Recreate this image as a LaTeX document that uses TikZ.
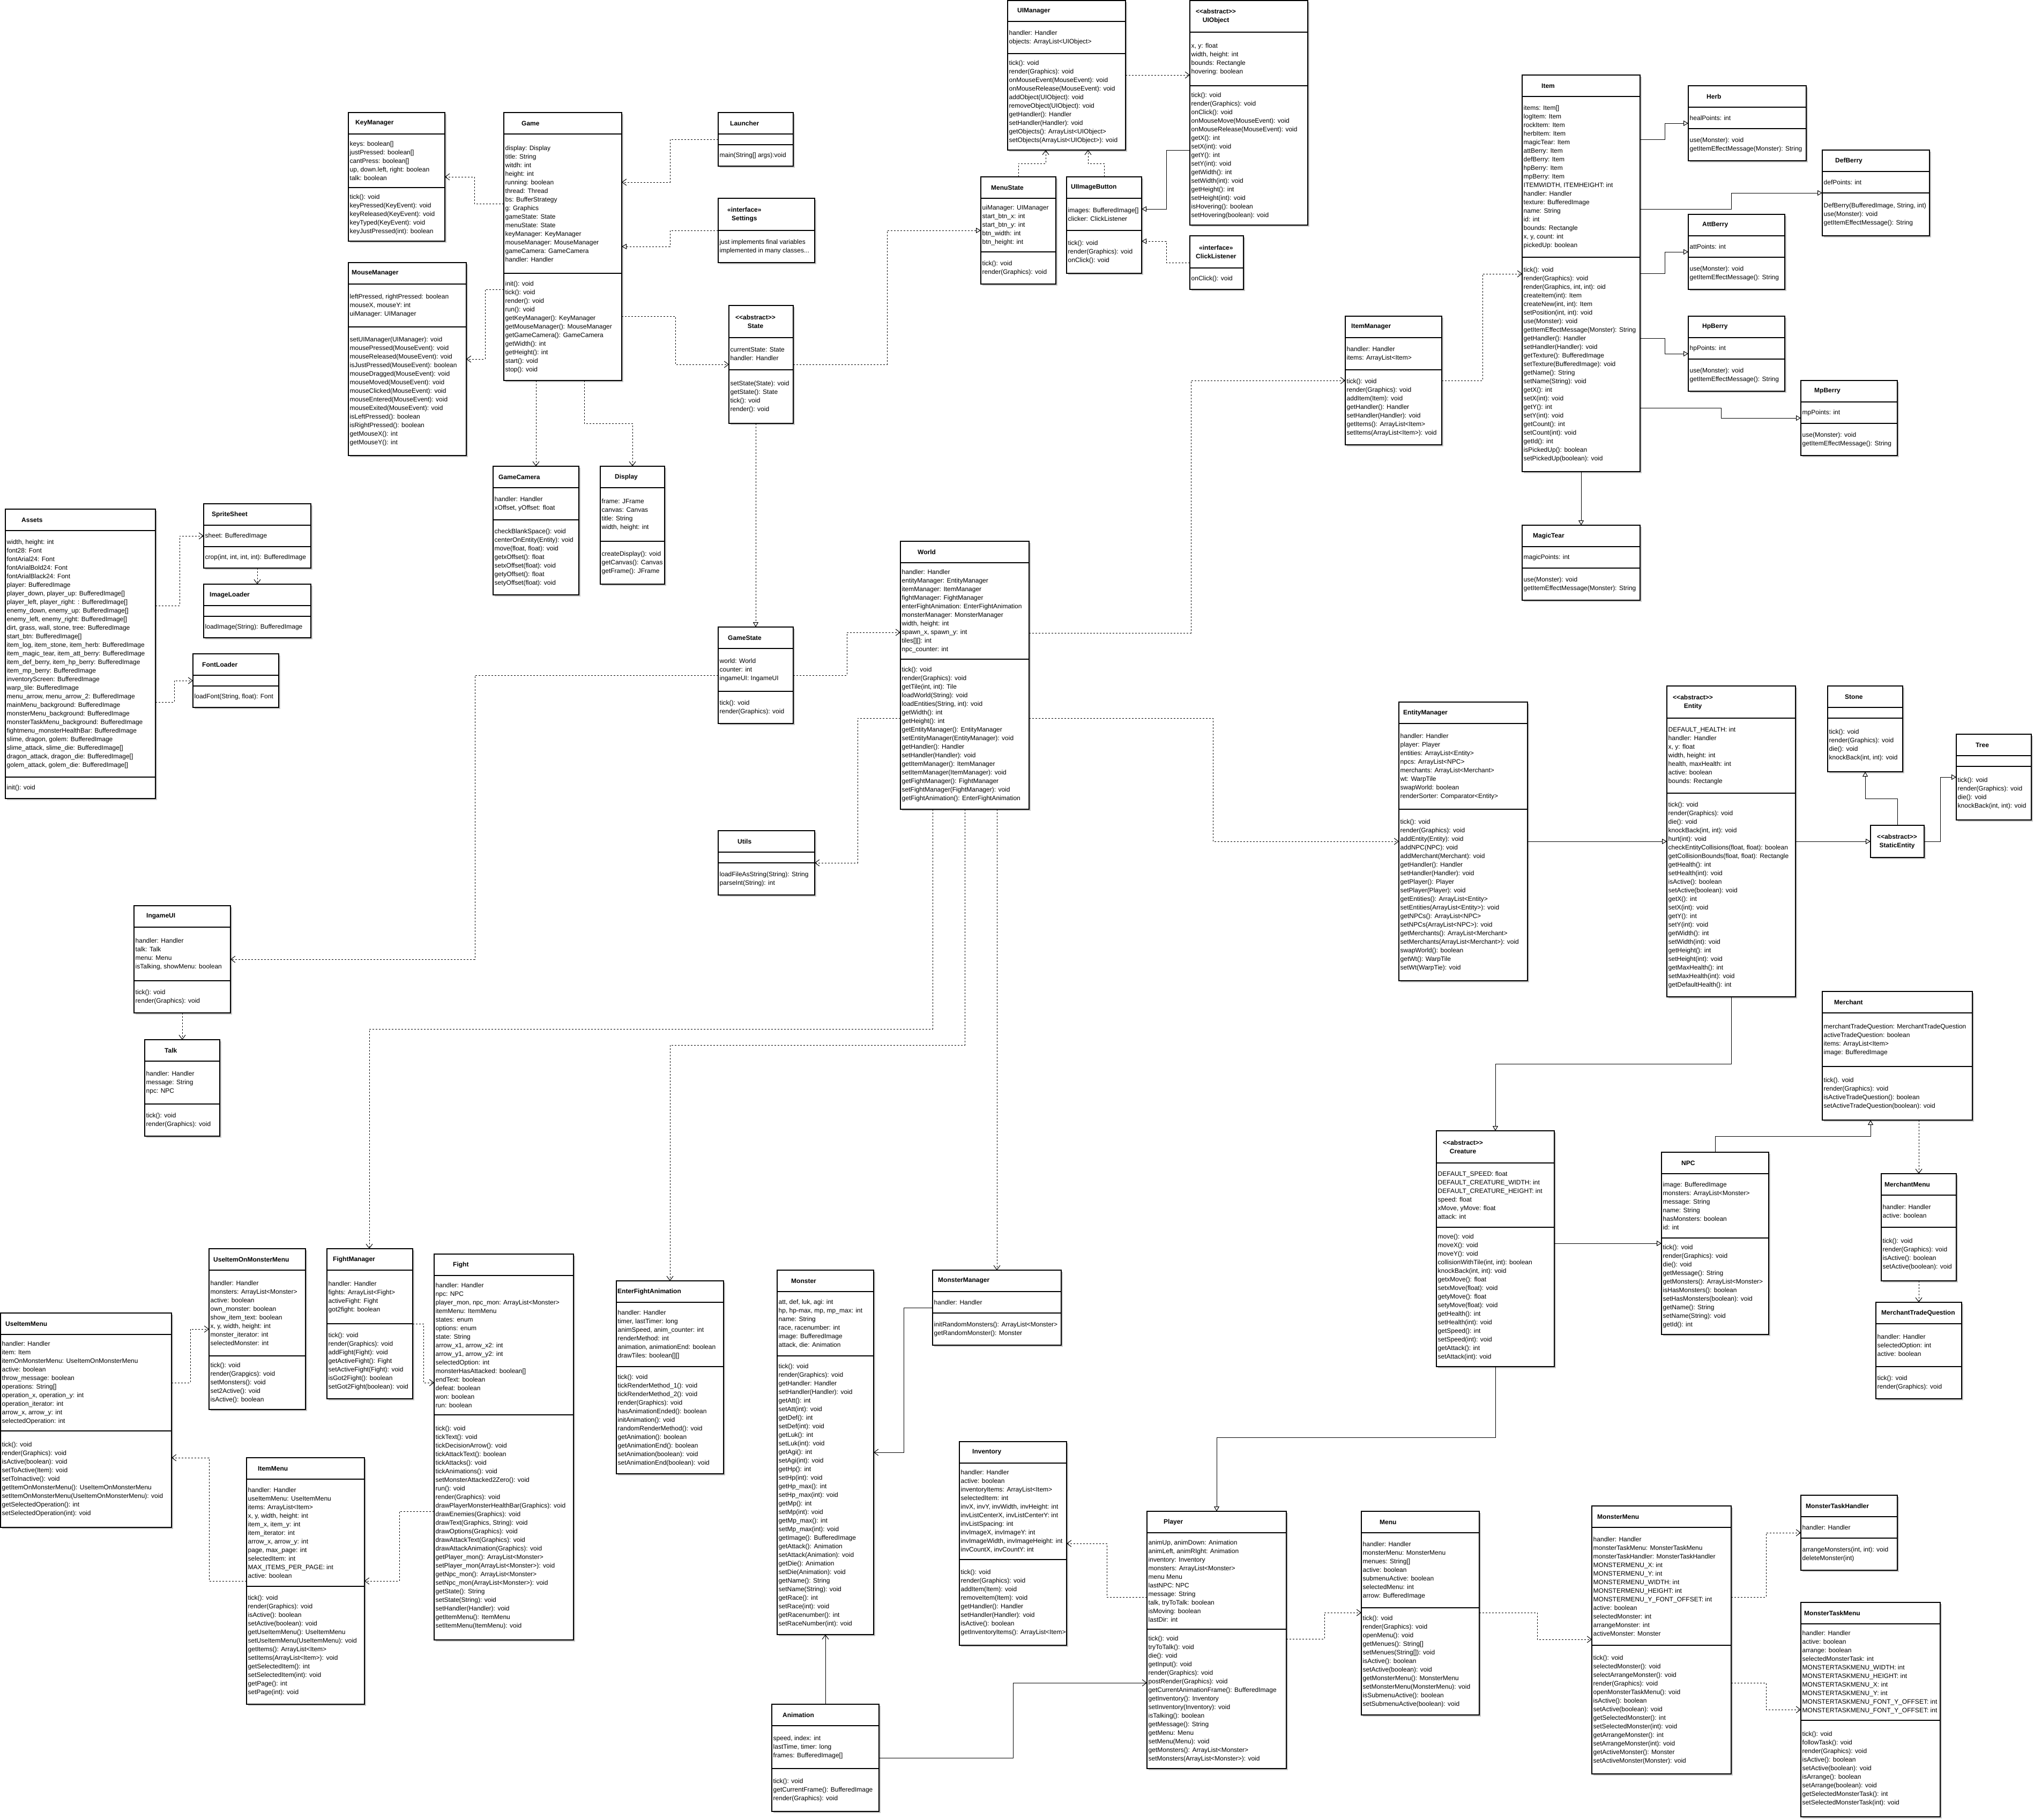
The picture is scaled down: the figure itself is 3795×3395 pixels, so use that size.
\documentclass[tikz,border=0pt]{standalone}
\usepackage{fontspec}
\setmainfont{Liberation Sans}
\usetikzlibrary{arrows.meta,shadows}
\newcommand\ltlt{<\kern0pt<}
\newcommand\gtgt{>\kern0pt>}
% class box: name, left, top, right, bottom, header bottom, title x, title
\newcommand\umlcls[8]{%
  \node[box, minimum width={(#4)-(#2)}, minimum height={(#5)-(#3)}] (#1) at (#2,#3) {};
  \node[ttl] at (#7,{(#3+#6)/2}) {#8};
  \def\clsL{#2}\def\clsR{#4}}
% compartment: top, bottom, lines
\newcommand\umlsec[3]{%
  \draw[sep] (\clsL,#1) -- (\clsR,#1);
  \node[mem] at (\clsL+2.5,{(#1+#2)/2}) {#3};}
\begin{document}
\begin{tikzpicture}[x=1pt,y=-1pt,
  box/.style={draw, line width=1.4pt, fill=white, anchor=north west, inner sep=0pt, outer sep=0pt,
    drop shadow={shadow xshift=3pt, shadow yshift=-3pt, fill=black!30, opacity=.7}},
  sep/.style={line width=1.4pt},
  mem/.style={anchor=west, inner sep=0pt, align=left, font=\fontsize{12}{16}\selectfont},
  ttl/.style={anchor=west, inner sep=0pt, align=center, font=\bfseries\fontsize{12}{16}\selectfont},
  dep/.style={line width=1pt, dash pattern=on 3pt off 3pt, -{Straight Barb[length=8pt,width=12pt,line width=1pt]}},
  real/.style={line width=1pt, dash pattern=on 3pt off 3pt, -{Triangle[length=9pt,width=10pt,fill=white,line width=1pt]}},
  gen/.style={line width=1pt, -{Triangle[length=9pt,width=10pt,fill=white,line width=1pt]}},
  assoc/.style={line width=1pt, -{Straight Barb[length=8pt,width=12pt,line width=1pt]}}]
\path[use as bounding box, fill=white] (0,0) rectangle (3795,3395);

% ---------------- core ----------------
\umlcls{keymgr}{650}{210}{830}{450}{250}{663}{KeyManager}
\umlsec{250}{350}{keys: boolean[]\\justPressed: boolean[]\\cantPress: boolean[]\\up, down.left, right: boolean\\talk: boolean}
\umlsec{350}{450}{tick(): void\\keyPressed(KeyEvent): void\\keyReleased(KeyEvent): void\\keyTyped(KeyEvent): void\\keyJustPressed(int): boolean}

\umlcls{mousemgr}{650}{490}{870}{850}{530}{656}{MouseManager}
\umlsec{530}{610}{leftPressed, rightPressed: boolean\\mouseX, mouseY: int\\uiManager: UIManager}
\umlsec{610}{850}{setUIManager(UIManager): void\\mousePressed(MouseEvent): void\\mouseReleased(MouseEvent): void\\isJustPressed(MouseEvent): boolean\\mouseDragged(MouseEvent): void\\mouseMoved(MouseEvent): void\\mouseClicked(MouseEvent): void\\mouseEntered(MouseEvent): void\\mouseExited(MouseEvent): void\\isLeftPressed(): boolean\\isRightPressed(): boolean\\getMouseX(): int\\getMouseY(): int}

\umlcls{game}{940}{210}{1160}{710}{250}{973}{Game}
\umlsec{250}{510}{display: Display\\title: String\\witdh: int\\height: int\\running: boolean\\thread: Thread\\bs: BufferStrategy\\g: Graphics\\gameState: State\\menuState: State\\keyManager: KeyManager\\mouseManager: MouseManager\\gameCamera: GameCamera\\handler: Handler}
\umlsec{510}{710}{init(): void\\tick(): void\\render(): void\\run(): void\\getKeyManager(): KeyManager\\getMouseManager(): MouseManager\\getGameCamera(): GameCamera\\getWidth(): int\\getHeight(): int\\start(): void\\stop(): void}

\umlcls{launcher}{1340}{210}{1480}{310}{250}{1362}{Launcher}
\umlsec{250}{270}{}
\umlsec{270}{310}{main(String[] args):void}

\umlcls{settings}{1340}{370}{1520}{490}{430}{1357}{«interface»\\Settings}
\umlsec{430}{490}{just implements final variables\\implemented in many classes...}

\umlcls{state}{1360}{570}{1480}{790}{630}{1372}{\ltlt abstract\gtgt\\State}
\umlsec{630}{690}{currentState: State\\handler: Handler}
\umlsec{690}{790}{setState(State): void\\getState(): State\\tick(): void\\render(): void}

% ---------------- user interface ----------------
\umlcls{uimgr}{1880}{1}{2100}{280}{40}{1898}{UIManager}
\umlsec{40}{100}{handler: Handler\\objects: ArrayList<UIObject>}
\umlsec{100}{280}{tick(): void\\render(Graphics): void\\onMouseEvent(MouseEvent): void\\onMouseRelease(MouseEvent): void\\addObject(UIObject): void\\removeObject(UIObject): void\\getHandler(): Handler\\setHandler(Handler): void\\getObjects(): ArrayList<UIObject>\\setObjects(ArrayList<UIObject>): void}

\umlcls{uiobject}{2220}{1}{2440}{420}{60}{2231}{\ltlt abstract\gtgt\\UIObject}
\umlsec{60}{160}{x, y: float\\width, height: int\\bounds: Rectangle\\hovering: boolean}
\umlsec{160}{420}{tick(): void\\render(Graphics): void\\onClick(): void\\onMouseMove(MouseEvent): void\\onMouseRelease(MouseEvent): void\\getX(): int\\setX(int): void\\getY(): int\\setY(int): void\\getWidth(): int\\setWidth(int): void\\getHeight(): int\\setHeight(int): void\\isHovering(): boolean\\setHovering(boolean): void}

\umlcls{menustate}{1830}{330}{1970}{530}{370}{1849}{MenuState}
\umlsec{370}{470}{uiManager: UIManager\\start\_btn\_x: int\\start\_btn\_y: int\\btn\_width: int\\btn\_height: int}
\umlsec{470}{530}{tick(): void\\render(Graphics): void}

\umlcls{uibutton}{1990}{330}{2130}{510}{370}{1998}{UIImageButton}
\umlsec{370}{430}{images: BufferedImage[]\\clicker: ClickListener}
\umlsec{430}{510}{tick(): void\\render(Graphics): void\\onClick(): void}

\umlcls{clicklistener}{2220}{440}{2320}{540}{500}{2231}{«interface»\\ClickListener}
\umlsec{500}{540}{onClick(): void}

% ---------------- items ----------------
\umlcls{item}{2840}{140}{3060}{880}{180}{2876}{Item}
\umlsec{180}{480}{items: Item[]\\logItem: Item\\rockItem: Item\\herbItem: Item\\magicTear: Item\\attBerry: Item\\defBerry: Item\\hpBerry: Item\\mpBerry: Item\\ITEMWIDTH, ITEMHEIGHT: int\\handler: Handler\\texture: BufferedImage\\name: String\\id: int\\bounds: Rectangle\\x, y, count: int\\pickedUp: boolean}
\umlsec{480}{880}{tick(): void\\render(Graphics): void\\render(Graphics, int, int): oid\\createItem(int): Item\\createNew(int, int): Item\\setPosition(int, int): void\\use(Monster): void\\getItemEffectMessage(Monster): String\\getHandler(): Handler\\setHandler(Handler): void\\getTexture(): BufferedImage\\setTexture(BufferedImage): void\\getName(): String\\setName(String): void\\getX(): int\\setX(int): void\\getY(): int\\setY(int): void\\getCount(): int\\setCount(int): void\\getId(): int\\isPickedUp(): boolean\\setPickedUp(boolean): void}

\umlcls{herb}{3150}{160}{3370}{300}{200}{3184}{Herb}
\umlsec{200}{240}{healPoints: int}
\umlsec{240}{300}{use(Monster): void\\getItemEffectMessage(Monster): String}

\umlcls{defberry}{3400}{280}{3600}{440}{320}{3424}{DefBerry}
\umlsec{320}{360}{defPoints: int}
\umlsec{360}{440}{DefBerry(BufferedImage, String, int)\\use(Monster): void\\getItemEffectMessage(): String}

\umlcls{attberry}{3150}{400}{3330}{540}{440}{3176}{AttBerry}
\umlsec{440}{480}{attPoints: int}
\umlsec{480}{540}{use(Monster): void\\getItemEffectMessage(): String}

\umlcls{hpberry}{3150}{590}{3330}{730}{630}{3176}{HpBerry}
\umlsec{630}{670}{hpPoints: int}
\umlsec{670}{730}{use(Monster): void\\getItemEffectMessage(): String}

\umlcls{mpberry}{3360}{710}{3540}{850}{750}{3385}{MpBerry}
\umlsec{750}{790}{mpPoints: int}
\umlsec{790}{850}{use(Monster): void\\getItemEffectMessage(): String}

\umlcls{magictear}{2840}{980}{3060}{1120}{1020}{2860}{MagicTear}
\umlsec{1020}{1060}{magicPoints: int}
\umlsec{1060}{1120}{use(Monster): void\\getItemEffectMessage(Monster): String}

\umlcls{itemmgr}{2510}{590}{2690}{830}{630}{2521}{ItemManager}
\umlsec{630}{690}{handler: Handler\\items: ArrayList<Item>}
\umlsec{690}{830}{tick(): void\\render(Graphics): void\\addItem(Item): void\\getHandler(): Handler\\setHandler(Handler): void\\getItems(): ArrayList<Item>\\setItems(ArrayList<Item>): void}

% ---------------- resources ----------------
\umlcls{assets}{10}{950}{290}{1490}{990}{40}{Assets}
\umlsec{990}{1450}{width, height: int\\font28: Font\\fontArial24: Font\\fontArialBold24: Font\\fontArialBlack24: Font\\player: BufferedImage\\player\_down, player\_up: BufferedImage[]\\player\_left, player\_right: : BufferedImage[]\\enemy\_down, enemy\_up: BufferedImage[]\\enemy\_left, enemy\_right: BufferedImage[]\\dirt, grass, wall, stone, tree: BufferedImage\\start\_btn: BufferedImage[]\\item\_log, item\_stone, item\_herb: BufferedImage\\item\_magic\_tear, item\_att\_berry: BufferedImage\\item\_def\_berry, item\_hp\_berry: BufferedImage\\item\_mp\_berry: BufferedImage\\inventoryScreen: BufferedImage\\warp\_tile: BufferedImage\\menu\_arrow, menu\_arrow\_2: BufferedImage\\mainMenu\_background: BufferedImage\\monsterMenu\_background: BufferedImage\\monsterTaskMenu\_background: BufferedImage\\fightmenu\_monsterHealthBar: BufferedImage\\slime, dragon, golem: BufferedImage\\slime\_attack, slime\_die: BufferedImage[]\\dragon\_attack, dragon\_die: BufferedImage[]\\golem\_attack, golem\_die: BufferedImage[]}
\umlsec{1450}{1490}{init(): void}

\umlcls{spritesheet}{380}{940}{580}{1060}{980}{395}{SpriteSheet}
\umlsec{980}{1020}{sheet: BufferedImage}
\umlsec{1020}{1060}{crop(int, int, int, int): BufferedImage}

\umlcls{imageloader}{380}{1090}{580}{1190}{1130}{391}{ImageLoader}
\umlsec{1130}{1150}{}
\umlsec{1150}{1190}{loadImage(String): BufferedImage}

\umlcls{fontloader}{360}{1220}{520}{1320}{1260}{377}{FontLoader}
\umlsec{1260}{1280}{}
\umlsec{1280}{1320}{loadFont(String, float): Font}

\umlcls{gamecamera}{920}{870}{1080}{1110}{910}{930}{GameCamera}
\umlsec{910}{970}{handler: Handler\\xOffset, yOffset: float}
\umlsec{970}{1110}{checkBlankSpace(): void\\centerOnEntity(Entity): void\\move(float, float): void\\getxOffset(): float\\setxOffset(float): void\\getyOffset(): float\\setyOffset(float): void}

\umlcls{display}{1120}{870}{1240}{1090}{910}{1147}{Display}
\umlsec{910}{1010}{frame: JFrame\\canvas: Canvas\\title: String\\width, height: int}
\umlsec{1010}{1090}{createDisplay(): void\\getCanvas(): Canvas\\getFrame(): JFrame}

% ---------------- world ----------------
\umlcls{gamestate}{1340}{1170}{1480}{1350}{1210}{1358}{GameState}
\umlsec{1210}{1290}{world: World\\counter: int\\ingameUI: IngameUI}
\umlsec{1290}{1350}{tick(): void\\render(Graphics): void}

\umlcls{world}{1680}{1010}{1920}{1510}{1050}{1712}{World}
\umlsec{1050}{1230}{handler: Handler\\entityManager: EntityManager\\itemManager: ItemManager\\fightManager: FightManager\\enterFightAnimation: EnterFightAnimation\\monsterManager: MonsterManager\\width, height: int\\spawn\_x, spawn\_y: int\\tiles[][]: int\\npc\_counter: int}
\umlsec{1230}{1510}{tick(): void\\render(Graphics): void\\getTile(int, int): Tile\\loadWorld(String): void\\loadEntities(String, int): void\\getWidth(): int\\getHeight(): int\\getEntityManager(): EntityManager\\setEntityManager(EntityManager): void\\getHandler(): Handler\\setHandler(Handler): void\\getItemManager(): ItemManager\\setItemManager(ItemManager): void\\getFightManager(): FightManager\\setFightManager(FightManager): void\\getFightAnimation(): EnterFightAnimation}

\umlcls{utils}{1340}{1550}{1520}{1670}{1590}{1376}{Utils}
\umlsec{1590}{1610}{}
\umlsec{1610}{1670}{loadFileAsString(String): String\\parseInt(String): int}

\umlcls{ingameui}{250}{1690}{430}{1890}{1730}{273}{IngameUI}
\umlsec{1730}{1830}{handler: Handler\\talk: Talk\\menu: Menu\\isTalking, showMenu: boolean}
\umlsec{1830}{1890}{tick(): void\\render(Graphics): void}

\umlcls{talk}{270}{1940}{410}{2120}{1980}{307}{Talk}
\umlsec{1980}{2060}{handler: Handler\\message: String\\npc: NPC}
\umlsec{2060}{2120}{tick(): void\\render(Graphics): void}

% ---------------- entities ----------------
\umlcls{entitymgr}{2610}{1310}{2850}{1830}{1350}{2618}{EntityManager}
\umlsec{1350}{1510}{handler: Handler\\player: Player\\entities: ArrayList<Entity>\\npcs: ArrayList<NPC>\\merchants: ArrayList<Merchant>\\wt: WarpTile\\swapWorld: boolean\\renderSorter: Comparator<Entity>}
\umlsec{1510}{1830}{tick(): void\\render(Graphics): void\\addEntity(Entity): void\\addNPC(NPC): void\\addMerchant(Merchant): void\\getHandler(): Handler\\setHandler(Handler): void\\getPlayer(): Player\\setPlayer(Player): void\\getEntities(): ArrayList<Entity>\\setEntities(ArrayList<Entity>): void\\getNPCs(): ArrayList<NPC>\\setNPCs(ArrayList<NPC>): void\\getMerchants(): ArrayList<Merchant>\\setMerchants(ArrayList<Merchant>): void\\swapWorld(): boolean\\getWt(): WarpTile\\setWt(WarpTie): void}

\umlcls{entity}{3110}{1280}{3350}{1860}{1340}{3121}{\ltlt abstract\gtgt\\Entity}
\umlsec{1340}{1480}{DEFAULT\_HEALTH: int\\handler: Handler\\x, y: float\\width, height: int\\health, maxHealth: int\\active: boolean\\bounds: Rectangle}
\umlsec{1480}{1860}{tick(): void\\render(Graphics): void\\die(): void\\knockBack(int, int): void\\hurt(int): void\\checkEntityCollisions(float, float): boolean\\getCollisionBounds(float, float): Rectangle\\getHealth(): int\\setHealth(int): void\\isActive(): boolean\\setActive(boolean): void\\getX(): int\\setX(int): void\\getY(): int\\setY(int): void\\getWidth(): int\\setWidth(int): void\\getHeight(): int\\setHeight(int): void\\getMaxHealth(): int\\setMaxHealth(int): void\\getDefaultHealth(): int}

\umlcls{stone}{3410}{1280}{3550}{1440}{1320}{3442}{Stone}
\umlsec{1320}{1340}{}
\umlsec{1340}{1440}{tick(): void\\render(Graphics): void\\die(): void\\knockBack(int, int): void}

\umlcls{tree}{3650}{1370}{3790}{1530}{1410}{3686}{Tree}
\umlsec{1410}{1430}{}
\umlsec{1430}{1530}{tick(): void\\render(Graphics): void\\die(): void\\knockBack(int, int): void}

\umlcls{staticentity}{3490}{1540}{3590}{1600}{1600}{3502}{\ltlt abstract\gtgt\\StaticEntity}

\umlcls{merchant}{3400}{1850}{3680}{2090}{1890}{3422}{Merchant}
\umlsec{1890}{1990}{merchantTradeQuestion: MerchantTradeQuestion\\activeTradeQuestion: boolean\\items: ArrayList<Item>\\image: BufferedImage}
\umlsec{1990}{2090}{tick(). void\\render(Graphics): void\\isActiveTradeQuestion(): boolean\\setActiveTradeQuestion(boolean): void}

\umlcls{creature}{2680}{2110}{2900}{2550}{2170}{2692}{\ltlt abstract\gtgt\\Creature}
\umlsec{2170}{2290}{DEFAULT\_SPEED: float\\DEFAULT\_CREATURE\_WIDTH: int\\DEFAULT\_CREATURE\_HEIGHT: int\\speed: float\\xMove, yMove: float\\attack: int}
\umlsec{2290}{2550}{move(): void\\moveX(): void\\moveY(): void\\collisionWithTile(int, int): boolean\\knockBack(int, int): void\\getxMove(): float\\setxMove(float): void\\getyMove(): float\\setyMove(float): void\\getHealth(): int\\setHealth(int): void\\getSpeed(): int\\setSpeed(int): void\\getAttack(): int\\setAttack(int): void}

\umlcls{npc}{3100}{2150}{3300}{2490}{2190}{3137}{NPC}
\umlsec{2190}{2310}{image: BufferedImage\\monsters: ArrayList<Monster>\\message: String\\name: String\\hasMonsters: boolean\\id: int}
\umlsec{2310}{2490}{tick(): void\\render(Graphics): void\\die(): void\\getMessage(): String\\getMonsters(): ArrayList<Monster>\\isHasMonsters(): boolean\\setHasMonsters(boolean): void\\getName(): String\\setName(String): void\\getId(): int}

\umlcls{merchantmenu}{3510}{2190}{3650}{2390}{2230}{3516}{MerchantMenu}
\umlsec{2230}{2290}{handler: Handler\\active: boolean}
\umlsec{2290}{2390}{tick(): void\\render(Graphics): void\\isActive(): boolean\\setActive(boolean): void}

\umlcls{mtq}{3500}{2430}{3660}{2610}{2470}{3510}{MerchantTradeQuestion}
\umlsec{2470}{2550}{handler: Handler\\selectedOption: int\\active: boolean}
\umlsec{2550}{2610}{tick(): void\\render(Graphics): void}

% ---------------- fights and menus ----------------
\umlcls{useitemmenu}{1}{2450}{320}{2850}{2490}{10}{UseItemMenu}
\umlsec{2490}{2670}{handler: Handler\\item: Item\\itemOnMonsterMenu: UseItemOnMonsterMenu\\active: boolean\\throw\_message: boolean\\operations: String[]\\operation\_x, operation\_y: int\\operation\_iterator: int\\arrow\_x, arrow\_y: int\\selectedOperation: int}
\umlsec{2670}{2850}{tick(): void\\render(Graphics): void\\isActive(boolean): void\\setToActive(Item): void\\setToInactive(): void\\getItemOnMonsterMenu(): UseItemOnMonsterMenu\\setItemOnMonsterMenu(UseItemOnMonsterMenu): void\\getSelectedOperation(): int\\setSelectedOperation(int): void}

\umlcls{uiomm}{390}{2330}{570}{2630}{2370}{398}{UseItemOnMonsterMenu}
\umlsec{2370}{2530}{handler: Handler\\monsters: ArrayList<Monster>\\active: boolean\\own\_monster: boolean\\show\_item\_text: boolean\\x, y, width, height: int\\monster\_iterator: int\\selectedMonster: int}
\umlsec{2530}{2630}{tick(): void\\render(Grapgics): void\\setMonsters(): void\\set2Active(): void\\isActive(): boolean}

\umlcls{fightmgr}{610}{2330}{770}{2610}{2370}{621}{FightManager}
\umlsec{2370}{2470}{handler: Handler\\fights: ArrayList<Fight>\\activeFight: Fight\\got2fight: boolean}
\umlsec{2470}{2610}{tick(): void\\render(Graphics): void\\addFight(Fight): void\\getActiveFight(): Fight\\setActiveFight(Fight): void\\isGot2Fight(): boolean\\setGot2Fight(boolean): void}

\umlcls{fight}{810}{2340}{1070}{3060}{2380}{845}{Fight}
\umlsec{2380}{2640}{handler: Handler\\npc: NPC\\player\_mon, npc\_mon: ArrayList<Monster>\\itemMenu: ItemMenu\\states: enum\\options: enum\\state: String\\arrow\_x1, arrow\_x2: int\\arrow\_y1, arrow\_y2: int\\selectedOption: int\\monsterHasAttacked: boolean[]\\endText: boolean\\defeat: boolean\\won: boolean\\run: boolean}
\umlsec{2640}{3060}{tick(): void\\tickText(): void\\tickDecisionArrow(): void\\tickAttackText(): boolean\\tickAttacks(): void\\tickAnimations(): void\\setMonsterAttacked2Zero(): void\\run(): void\\render(Graphics): void\\drawPlayerMonsterHealthBar(Graphics): void\\drawEnemies(Graphics): void\\drawText(Graphics, String): void\\drawOptions(Graphics): void\\drawAttackText(Graphics): void\\drawAttackAnimation(Graphics): void\\getPlayer\_mon(): ArrayList<Monster>\\setPlayer\_mon(ArrayList<Monster>): void\\getNpc\_mon(): ArrayList<Monster>\\setNpc\_mon(ArrayList<Monster>): void\\getState(): String\\setState(String): void\\setHandler(Handler): void\\getItemMenu(): ItemMenu\\setItemMenu(ItemMenu): void}

\umlcls{itemmenu}{460}{2720}{680}{3180}{2760}{481}{ItemMenu}
\umlsec{2760}{2960}{handler: Handler\\useItemMenu: UseItemMenu\\items: ArrayList<Item>\\x, y, width, height: int\\item\_x, item\_y: int\\item\_iterator: int\\arrow\_x, arrow\_y: int\\page, max\_page: int\\selectedItem: int\\MAX\_ITEMS\_PER\_PAGE: int\\active: boolean}
\umlsec{2960}{3180}{tick(): void\\render(Graphics): void\\isActive(): boolean\\setActive(boolean): void\\getUseItemMenu(): UseItemMenu\\setUseItemMenu(UseItemMenu): void\\getItems(): ArrayList<Item>\\setItems(ArrayList<Item>): void\\getSelectedItem(): int\\setSelectedItem(int): void\\getPage(): int\\setPage(int): void}

\umlcls{efa}{1150}{2390}{1350}{2750}{2430}{1152}{EnterFightAnimation}
\umlsec{2430}{2550}{handler: Handler\\timer, lastTimer: long\\animSpeed, anim\_counter: int\\renderMethod: int\\animation, animationEnd: boolean\\drawTiles: boolean[][]}
\umlsec{2550}{2750}{tick(): void\\tickRenderMethod\_1(): void\\tickRenderMethod\_2(): void\\render(Graphics): void\\hasAnimationEnded(): boolean\\initAnimation(): void\\randomRenderMethod(): void\\getAnimation(): boolean\\getAnimationEnd(): boolean\\setAnimation(boolean): void\\setAnimationEnd(boolean): void}

\umlcls{monster}{1450}{2370}{1630}{3050}{2410}{1476}{Monster}
\umlsec{2410}{2530}{att, def, luk, agi: int\\hp, hp-max, mp, mp\_max: int\\name: String\\race, racenumber: int\\image: BufferedImage\\attack, die: Animation}
\umlsec{2530}{3050}{tick(): void\\render(Graphics): void\\getHandler: Handler\\setHandler(Handler): void\\getAtt(): int\\setAtt(int): void\\getDef(): int\\setDef(int): void\\getLuk(): int\\setLuk(int): void\\getAgi(): int\\setAgi(int): void\\getHp(): int\\setHp(int): void\\getHp\_max(): int\\setHp\_max(int): void\\getMp(): int\\setMp(int): void\\getMp\_max(): int\\setMp\_max(int): void\\getImage(): BufferedImage\\getAttack(): Animation\\setAttack(Animation): void\\getDie(): Animation\\setDie(Animation): void\\getName(): String\\setName(String): void\\getRace(): int\\setRace(int): void\\getRacenumber(): int\\setRaceNumber(int): void}

\umlcls{monstermgr}{1740}{2370}{1980}{2510}{2410}{1750}{MonsterManager}
\umlsec{2410}{2450}{handler: Handler}
\umlsec{2450}{2510}{initRandomMonsters(): ArrayList<Monster>\\getRandomMonster(): Monster}

\umlcls{inventory}{1790}{2690}{1990}{3070}{2730}{1814}{Inventory}
\umlsec{2730}{2910}{handler: Handler\\active: boolean\\inventoryItems: ArrayList<Item>\\selectedItem: int\\invX, invY, invWidth, invHeight: int\\invListCenterX, invListCenterY: int\\invListSpacing: int\\invImageX, invImageY: int\\invImageWidth, invImageHeight: int\\invCountX, invCountY: int}
\umlsec{2910}{3070}{tick(): void\\render(Graphics): void\\addItem(Item): void\\removeItem(Item): void\\getHandler(): Handler\\setHandler(Handler): void\\isActive(): boolean\\getInventoryItems(): ArrayList<Item>}

\umlcls{animation}{1440}{3180}{1640}{3380}{3220}{1460}{Animation}
\umlsec{3220}{3300}{speed, index: int\\lastTime, timer: long\\frames: BufferedImage[]}
\umlsec{3300}{3380}{tick(): void\\getCurrentFrame(): BufferedImage\\render(Graphics): void}

\umlcls{player}{2140}{2820}{2400}{3300}{2860}{2171}{Player}
\umlsec{2860}{3040}{animUp, animDown: Animation\\animLeft, animRIght: Animation\\inventory: Inventory\\monsters: ArrayList<Monster>\\menu Menu\\lastNPC: NPC\\message: String\\talk, tryToTalk: boolean\\isMoving: boolean\\lastDir: int}
\umlsec{3040}{3300}{tick(): void\\tryToTalk(): void\\die(): void\\getInput(): void\\render(Graphics): void\\postRender(Graphics): void\\getCurrentAnimationFrame(): BufferedImage\\getInventory(): Inventory\\setInventory(Inventory): void\\isTalking(): boolean\\getMessage(): String\\getMenu: Menu\\setMenu(Menu): void\\getMonsters(): ArrayList<Monster>\\setMonsters(ArrayList<Monster>): void}

\umlcls{menu}{2540}{2820}{2760}{3200}{2860}{2574}{Menu}
\umlsec{2860}{3000}{handler: Handler\\monsterMenu: MonsterMenu\\menues: String[]\\active: boolean\\submenuActive: boolean\\selectedMenu: int\\arrow: BufferedImage}
\umlsec{3000}{3200}{tick(): void\\render(Graphics): void\\openMenu(): void\\getMenues(): String[]\\setMenues(String[]): void\\isActive(): boolean\\setActive(boolean): void\\getMonsterMenu(): MonsterMenu\\setMonsterMenu(MonsterMenu): void\\isSubmenuActive(): boolean\\setSubmenuActive(boolean): void}

\umlcls{monstermenu}{2970}{2810}{3230}{3310}{2850}{2980}{MonsterMenu}
\umlsec{2850}{3070}{handler: Handler\\monsterTaskMenu: MonsterTaskMenu\\monsterTaskHandler: MonsterTaskHandler\\MONSTERMENU\_X: int\\MONSTERMENU\_Y: int\\MONSTERMENU\_WIDTH: int\\MONSTERMENU\_HEIGHT: int\\MONSTERMENU\_Y\_FONT\_OFFSET: int\\active: boolean\\selectedMonster: int\\arrangeMonster: int\\activeMonster: Monster}
\umlsec{3070}{3310}{tick(): void\\selectedMonster(): void\\selectArrangeMonster(): void\\render(Graphics): void\\openMonsterTaskMenu(): void\\isActive(): boolean\\setActive(boolean): void\\getSelectedMonster(): int\\setSelectedMonster(int): void\\getArrangeMonster(): int\\setArrangeMonster(int): void\\getActiveMonster(): Monster\\setActiveMonster(Monster): void}

\umlcls{mth}{3360}{2790}{3540}{2930}{2830}{3369}{MonsterTaskHandler}
\umlsec{2830}{2870}{handler: Handler}
\umlsec{2870}{2930}{arrangeMonsters(int, int): void\\deleteMonster(int)}

\umlcls{mtm}{3360}{2990}{3620}{3390}{3030}{3366}{MonsterTaskMenu}
\umlsec{3030}{3210}{handler: Handler\\active: boolean\\arrange: boolean\\selectedMonsterTask: int\\MONSTERTASKMENU\_WIDTH: int\\MONSTERTASKMENU\_HEIGHT: int\\MONSTERTASKMENU\_X: int\\MONSTERTASKMENU\_Y: int\\MONSTERTASKMENU\_FONT\_Y\_OFFSET: int\\MONSTERTASKMENU\_FONT\_Y\_OFFSET: int}
\umlsec{3210}{3390}{tick(): void\\followTask(): void\\render(Graphics): void\\isActive(): boolean\\setActive(boolean): void\\isArrange(): boolean\\setArrange(boolean): void\\getSelectedMonsterTask(): int\\setSelectedMonsterTask(int): void}

% ---------------- connectors ----------------
\draw[dep] (launcher.west |- 0,260) -| (1250,340) -- (game.east |- 0,340);
\draw[real] (settings.west |- 0,430) -| (1250,460) -- (game.east |- 0,460);
\draw[dep] (game.east |- 0,590) -| (1260,680) -- (state.west |- 0,680);
\draw[real] (state.east |- 0,680) -| (1655,430) -- (menustate.west |- 0,430);
\draw[real] (state.south -| 1410,0) -- (gamestate.north -| 1410,0);
\draw[dep] (game.south -| 1000,0) -- (gamecamera.north -| 1000,0);
\draw[dep] (game.south -| 1090,0) |- (1180,790) -- (display.north -| 1180,0);
\draw[dep] (game.west |- 0,380) -| (885,330) -- (keymgr.east |- 0,330);
\draw[dep] (game.west |- 0,540) -| (905,670) -- (mousemgr.east |- 0,670);

\draw[dep] (uimgr.east |- 0,140) -- (uiobject.west |- 0,140);
\draw[dep] (menustate.north -| 1900,0) |- (1951,305) -- (uimgr.south -| 1951,0);
\draw[dep] (uibutton.north -| 2060,0) |- (2030,305) -- (uimgr.south -| 2030,0);
\draw[gen] (uiobject.west |- 0,280) -| (2176,390) -- (uibutton.east |- 0,390);
\draw[real] (clicklistener.west |- 0,490) -| (2176,450) -- (uibutton.east |- 0,450);

\draw[gen] (item.east |- 0,260) -| (3106,230) -- (herb.west |- 0,230);
\draw[gen] (item.east |- 0,390) -| (3230,360) -- (defberry.west |- 0,360);
\draw[gen] (item.east |- 0,510) -| (3106,470) -- (attberry.west |- 0,470);
\draw[gen] (item.east |- 0,631) -| (3106,660) -- (hpberry.west |- 0,660);
\draw[gen] (item.east |- 0,761) -| (3211,780) -- (mpberry.west |- 0,780);
\draw[gen] (item.south) -- (magictear.north);
\draw[dep] (itemmgr.east |- 0,710) -| (2766,511) -- (item.west |- 0,511);

\draw[dep] (assets.east |- 0,1130) -| (335,1000) -- (spritesheet.west |- 0,1000);
\draw[dep] (spritesheet.south) -- (imageloader.north);
\draw[dep] (assets.east |- 0,1310) -| (325,1270) -- (fontloader.west |- 0,1270);

\draw[dep] (gamestate.east |- 0,1260) -| (1580,1180) -- (world.west |- 0,1180);
\draw[dep] (world.west |- 0,1340) -| (1600,1610) -- (utils.east |- 0,1610);
\draw[dep] (gamestate.west |- 0,1260) -| (886,1790) -- (ingameui.east |- 0,1790);
\draw[dep] (ingameui.south) -- (talk.north);
\draw[dep] (world.east |- 0,1181) -| (2222,710) -- (itemmgr.west |- 0,710);
\draw[dep] (world.east |- 0,1340) -| (2263,1570) -- (entitymgr.west |- 0,1570);
\draw[dep] (world.south -| 1740,0) |- (689,1920) -- (fightmgr.north -| 689,0);
\draw[dep] (world.south -| 1800,0) |- (1250,1950) -- (efa.north);
\draw[dep] (world.south -| 1860,0) -- (monstermgr.north);

\draw[gen] (entitymgr.east |- 0,1570) -- (entity.west |- 0,1570);
\draw[gen] (entity.east |- 0,1570) -- (staticentity.west);
\draw[gen] (staticentity.north -| 3540,0) |- (3480,1490) -- (stone.south);
\draw[gen] (staticentity.east) -| (3620,1450) -- (tree.west |- 0,1450);
\draw[gen] (entity.south) |- (2790,1985) -- (creature.north);
\draw[gen] (creature.east |- 0,2320) -- (npc.west |- 0,2320);
\draw[gen] (npc.north) |- (3490,2120) -- (merchant.south -| 3490,0);
\draw[dep] (merchant.south -| 3580,0) -- (merchantmenu.north);
\draw[dep] (merchantmenu.south) -- (mtq.north -| 3580,0);
\draw[gen] (creature.south) |- (2270,2682) -- (player.north);

\draw[dep] (useitemmenu.east |- 0,2580) -| (355,2480) -- (uiomm.west |- 0,2480);
\draw[dep] (fightmgr.east |- 0,2470) -| (790,2580) -- (fight.west |- 0,2580);
\draw[dep] (fight.west |- 0,2820) -| (745,2950) -- (itemmenu.east |- 0,2950);
\draw[dep] (itemmenu.west |- 0,2950) -| (390,2720) -- (useitemmenu.east |- 0,2720);

\draw[assoc] (monstermgr.west |- 0,2440) -| (1686,2710) -- (monster.east |- 0,2710);
\draw[assoc] (animation.north) -- (monster.south);
\draw[assoc] (animation.east |- 0,3280) -| (1890,3140) -- (player.west |- 0,3140);
\draw[dep] (player.west |- 0,2980) -| (2065,2880) -- (inventory.east |- 0,2880);
\draw[dep] (player.east |- 0,3058) -| (2471,3009) -- (menu.west |- 0,3009);
\draw[dep] (menu.east |- 0,3009) -| (2868,3059) -- (monstermenu.west |- 0,3059);
\draw[dep] (monstermenu.east |- 0,2980) -| (3295,2860) -- (mth.west |- 0,2860);
\draw[dep] (monstermenu.east |- 0,3140) -| (3295,3190) -- (mtm.west |- 0,3190);
\end{tikzpicture}
\end{document}
